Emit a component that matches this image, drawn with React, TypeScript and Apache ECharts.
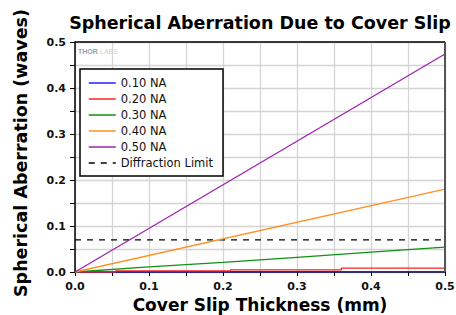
import React, { useEffect, useRef } from "react";
import * as echarts from "echarts";

const seriesNames = ["0.10 NA", "0.20 NA", "0.30 NA", "0.40 NA", "0.50 NA"];
const seriesColors = ["#2020ff", "#ff2020", "#109010", "#ff9020", "#a020b0"];
const na010: [number, number][] = [[0, 0.0], [0.5, 0.0007]];
const na020: [number, number][] = [
  [0, 0.0], [0.055, 0.0], [0.055, 0.0025], [0.21, 0.0025], [0.21, 0.0045],
  [0.36, 0.0045], [0.36, 0.0085], [0.5, 0.0085],
];
const na030: [number, number][] = [[0, 0.0], [0.1, 0.011], [0.2, 0.021], [0.3, 0.032], [0.4, 0.043], [0.5, 0.054]];
const na040: [number, number][] = [[0, 0.0], [0.5, 0.18]];
const na050: [number, number][] = [[0, 0.0], [0.5, 0.474]];
const diffractionLimit: [number, number][] = [[0, 0.07], [0.5, 0.07]];
const allSeries = [na010, na020, na030, na040, na050];

const FONT = "DejaVu Sans, Verdana, sans-serif";

export default function App() {
  const ref = useRef<HTMLDivElement>(null);
  useEffect(() => {
    const chart = echarts.init(ref.current!, null, { renderer: "svg" });
    const fmt = (v: number) => {
      const k = Math.round(v / 0.05);
      return k % 2 === 0 ? v.toFixed(1) : "";
    };
    const lineSeries: any[] = allSeries.map((d, i) => ({
      name: seriesNames[i],
      type: "line",
      data: d,
      symbol: "none",
      lineStyle: { color: seriesColors[i], width: 1.3 },
      itemStyle: { color: seriesColors[i] },
      z: 3,
    }));
    lineSeries.push({
      name: "Diffraction Limit",
      type: "line",
      data: diffractionLimit,
      symbol: "none",
      lineStyle: { color: "#000", width: 1.2, type: [6, 6] },
      itemStyle: { color: "#000" },
      z: 2,
    });
    chart.setOption({
      animation: false,
      title: {
        text: "Spherical Aberration Due to Cover Slip",
        left: 255,
        textAlign: "center",
        top: 9,
        textStyle: { fontFamily: FONT, fontWeight: "bold", fontSize: 17.5, color: "#000" },
      },
      grid: { left: 75, right: 11, top: 42, bottom: 43, outerBoundsMode: "none", containLabel: false },
      legend: {
        orient: "vertical",
        left: 80,
        top: 69,
        padding: [8, 10, 7, 8],
        itemGap: 4,
        itemWidth: 27,
        itemHeight: 11,
        backgroundColor: "#fff",
        borderColor: "#000",
        borderWidth: 1.5,
        itemStyle: { opacity: 0 },
        lineStyle: { width: 1.5 },
        textStyle: { fontFamily: FONT, fontSize: 11.5, color: "#111", lineHeight: 11 },
        data: [...seriesNames, "Diffraction Limit"],
      },
      xAxis: {
        type: "value",
        min: 0,
        max: 0.5,
        interval: 0.05,
        name: "Cover Slip Thickness (mm)",
        nameLocation: "middle",
        nameGap: 24,
        nameTextStyle: { fontFamily: FONT, fontWeight: "bold", fontSize: 17, color: "#000" },
        axisLine: { lineStyle: { color: "#000", width: 1.5 } },
        axisTick: { show: true, length: 4, lineStyle: { color: "#000" } },
        axisLabel: { formatter: fmt, fontFamily: FONT, fontWeight: "bold", fontSize: 11, color: "#111", margin: 9 },
        splitLine: { show: true, lineStyle: { color: "#d4d4d4", width: 1.3 } },
      },
      yAxis: {
        type: "value",
        min: 0,
        max: 0.5,
        interval: 0.05,
        name: "Spherical Aberration (waves)",
        nameLocation: "middle",
        nameGap: 45,
        nameTextStyle: { fontFamily: FONT, fontWeight: "bold", fontSize: 17.5, color: "#000", padding: [0, 0, 0, 8] },
        axisLine: { lineStyle: { color: "#000", width: 1.5 } },
        axisTick: { show: true, length: 5, lineStyle: { color: "#000" } },
        axisLabel: { formatter: fmt, fontFamily: FONT, fontWeight: "bold", fontSize: 11, color: "#111", margin: 9 },
        splitLine: { show: true, lineStyle: { color: "#d4d4d4", width: 1.3 } },
      },
      graphic: [
        { type: "line", shape: { x1: 75, y1: 42, x2: 445, y2: 42 }, style: { stroke: "#000", lineWidth: 1.5 }, z: 10 },
        { type: "line", shape: { x1: 445, y1: 42, x2: 445, y2: 272 }, style: { stroke: "#555", lineWidth: 2 }, z: 10 },
        {
          type: "text", left: 78, top: 48, z: 10,
          style: { text: "THOR", fill: "#a0a0a0", font: "bold 7px Arial, Liberation Sans" },
        },
        {
          type: "text", left: 100, top: 48, z: 10,
          style: { text: "LABS", fill: "#d0d0d0", font: "7px Arial, Liberation Sans" },
        },
      ],
      series: lineSeries,
    });
    return () => chart.dispose();
  }, []);
  return <div ref={ref} style={{ width: 456, height: 315, position: "absolute", left: 0, top: 0 }} />;
}
